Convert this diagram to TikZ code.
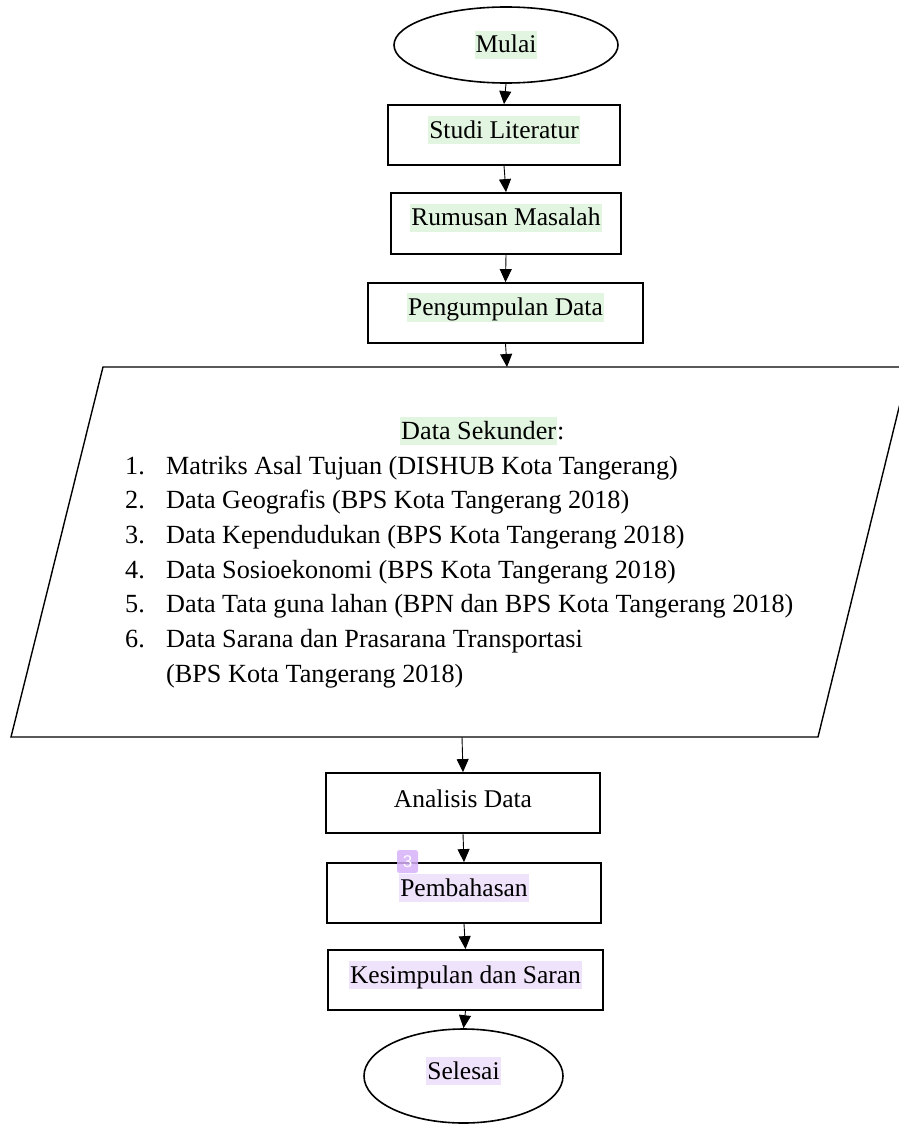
\documentclass[tikz,border=0pt]{standalone}
\usepackage{fontspec}
\setmainfont{Liberation Serif}
\newfontfamily\badgefont{Liberation Sans}
\usetikzlibrary{shapes.geometric,arrows.meta}

\definecolor{hlgreen}{HTML}{E2F5E0}
\definecolor{hlpurple}{HTML}{EFE2FB}
\definecolor{badgepurple}{HTML}{D6B0F8}

% highlighted words (green / purple marker)
\newcommand\hlg[1]{{\setlength\fboxsep{1pt}\colorbox{hlgreen}{\rule[-5pt]{0pt}{26pt}#1}}}
\newcommand\hlp[1]{{\setlength\fboxsep{1pt}\colorbox{hlpurple}{\rule[-5pt]{0pt}{26pt}#1}}}
% put the baseline a few points below the node centre
\newcommand\lowered[2]{\raisebox{-#1}[0pt][0pt]{#2}}

\begin{document}
\begin{tikzpicture}[x=1pt,y=-1pt,
  font=\fontsize{25.5}{34.7}\selectfont,
  stepbox/.style={draw, line width=1.8pt, rectangle, minimum height=60pt, inner sep=0pt},
  termbox/.style={draw, line width=1.6pt, ellipse, inner sep=0pt},
  flow/.style={line width=0.9pt, -{Triangle[width=12pt,length=13pt]}},
  listtext/.style={anchor=base west, inner sep=0pt, font=\fontsize{26.2}{34.7}\selectfont}
]
\useasboundingbox (0,0) rectangle (898,1124);

% terminals and process steps
\node[termbox, minimum width=224pt, minimum height=76pt] (mulai) at (506,45) {\lowered{8pt}{\hlg{Mulai}}};
\node[stepbox, minimum width=232pt] (studi) at (504,135) {\lowered{3pt}{\hlg{Studi Literatur}}};
\node[stepbox, minimum width=230pt, minimum height=61pt] (rumusan) at (506,223.5) {\lowered{2pt}{\hlg{Rumusan Masalah}}};
\node[stepbox, minimum width=275pt] (kumpul) at (505.5,313) {\lowered{2pt}{\hlg{Pengumpulan Data}}};

% input/output parallelogram with the secondary data list
\draw[line width=1.4pt] (103,367) -- (909,367) -- (818,737) -- (11,737) -- cycle;
\coordinate (dataTop) at (507,367);
\coordinate (dataBot) at (462,737);

\node[listtext] (judul) at (400,439) {\hlg{Data Sekunder}:};
\node[listtext] (n1) at (125,474) {1.};
\node[listtext] (t1) at (166,474) {Matriks Asal Tujuan (DISHUB Kota Tangerang)};
\node[listtext] (n2) at (125,508.7) {2.};
\node[listtext] (t2) at (166,508.7) {Data Geografis (BPS Kota Tangerang 2018)};
\node[listtext] (n3) at (125,543.4) {3.};
\node[listtext] (t3) at (166,543.4) {Data Kependudukan (BPS Kota Tangerang 2018)};
\node[listtext] (n4) at (125,578.1) {4.};
\node[listtext] (t4) at (166,578.1) {Data Sosioekonomi (BPS Kota Tangerang 2018)};
\node[listtext] (n5) at (125,612.8) {5.};
\node[listtext] (t5) at (166,612.8) {Data Tata guna lahan (BPN dan BPS Kota Tangerang 2018)};
\node[listtext] (n6) at (125,647.5) {6.};
\node[listtext] (t6) at (166,647.5) {Data Sarana dan Prasarana Transportasi};
\node[listtext] (t6b) at (166,682.2) {(BPS Kota Tangerang 2018)};

% analysis steps
\node[stepbox, minimum width=274pt] (analisis) at (463,803) {\lowered{4pt}{Analisis Data}};
\node[stepbox, minimum width=274pt] (bahas) at (464,893) {\lowered{3pt}{\hlp{Pembahasan}}};
\node[stepbox, minimum width=275pt] (simpul) at (465.5,980) {\lowered{3pt}{\hlp{Kesimpulan dan Saran}}};
\node[termbox, minimum width=199pt, minimum height=94pt] (selesai) at (463.5,1076) {\lowered{3pt}{\hlp{Selesai}}};

% comment marker (translucent tag with a white number)
\node[fill=badgepurple, fill opacity=0.85, rounded corners=2.5pt,
      minimum width=21pt, minimum height=23pt, inner sep=0pt] (badge) at (407.5,861.5) {};
\node[text=white, inner sep=0pt, font=\badgefont\fontsize{17}{17}\selectfont] (badgenum) at (badge.center) {3};

% connectors
\draw[flow] (mulai.south) -- (studi.north);
\draw[flow] (studi.south) -- (rumusan.north);
\draw[flow] (rumusan.south) -- (kumpul.north);
\draw[flow] (kumpul.south) -- (dataTop);
\draw[flow] (dataBot) -- (analisis.north);
\draw[flow] (analisis.south) -- (bahas.north);
\draw[flow] (bahas.south) -- (simpul.north);
\draw[flow] (simpul.south) -- (selesai.north);
\end{tikzpicture}
\end{document}
